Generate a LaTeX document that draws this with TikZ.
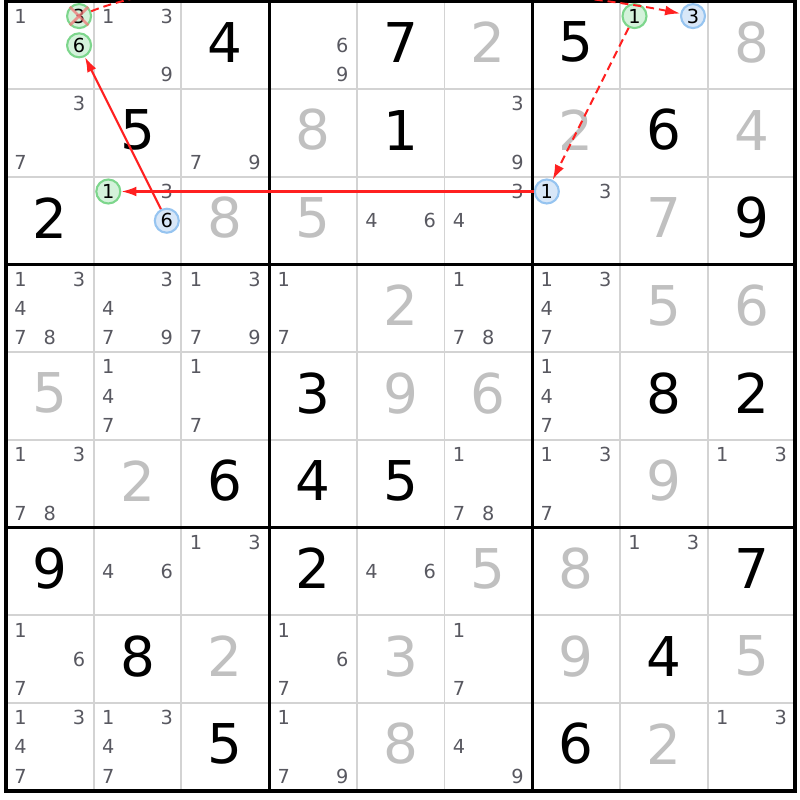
\documentclass[tikz,border=0pt]{standalone}
\usepackage{fontspec}
\setmainfont{DejaVu Sans}
\usetikzlibrary{arrows.meta}
\definecolor{gridgray}{RGB}{211,211,211}
\definecolor{solvedgray}{RGB}{192,192,192}
\definecolor{candgray}{RGB}{88,88,96}
\definecolor{greenfill}{RGB}{212,242,219}
\definecolor{greenline}{RGB}{125,214,140}
\definecolor{bluefill}{RGB}{216,231,248}
\definecolor{blueline}{RGB}{150,196,240}
\definecolor{chainred}{RGB}{255,32,32}
\definecolor{crosspink}{RGB}{240,120,120}
\begin{document}
\begin{tikzpicture}[x=0.14617cm, y=-0.14617cm,
  given/.style={font=\fontsize{15.6}{18}\selectfont, inner sep=0, yshift=.85pt},
  solved/.style={given, text=solvedgray},
  cand/.style={font=\fontsize{5.5}{6}\selectfont, inner sep=0, text=candgray},
  candgreen/.style={cand, circle, text=black, draw=greenline, fill=greenfill, line width=.6pt, minimum size=.24cm},
  candblue/.style={candgreen, draw=blueline, fill=bluefill},
  thingrid/.style={draw=gridgray, line width=.55pt},
  thickgrid/.style={draw=black, line width=.85pt},
  strong/.style={draw=chainred, line width=.6pt, -{Latex[length=4.3pt,width=2.8pt]}},
  weak/.style={strong, line width=.55pt, dash pattern=on 2.3pt off 1.4pt},
  cross/.style={draw=crosspink, line width=.8pt, opacity=.75}]
\clip (-0.41,-0.10) rectangle (54.32,54.63);
\draw[thingrid] (6,0) -- (6,54);
\draw[thingrid] (12,0) -- (12,54);
\draw[thingrid] (24,0) -- (24,54);
\draw[thingrid] (30,0) -- (30,54);
\draw[thingrid] (42,0) -- (42,54);
\draw[thingrid] (48,0) -- (48,54);
\draw[thingrid] (0,6) -- (54,6);
\draw[thingrid] (0,12) -- (54,12);
\draw[thingrid] (0,24) -- (54,24);
\draw[thingrid] (0,30) -- (54,30);
\draw[thingrid] (0,42) -- (54,42);
\draw[thingrid] (0,48) -- (54,48);
\draw[thickgrid] (18,0) -- (18,54);
\draw[thickgrid] (36,0) -- (36,54);
\draw[thickgrid] (0,18) -- (54,18);
\draw[thickgrid] (0,36) -- (54,36);
\draw[thickgrid, line width=1.1pt] (0,0) rectangle (54,54);

\node[cand] (r1c1n1) at (1,1){1};
\node[candgreen] (r1c1n3) at (5,1){3};
\node[candgreen] (r1c1n6) at (5,3){6};
\node[cand] (r1c2n1) at (7,1){1};
\node[cand] (r1c2n3) at (11,1){3};
\node[cand] (r1c2n9) at (11,5){9};
\node[given] (r1c3) at (15,3){4};
\node[cand] (r1c4n6) at (23,3){6};
\node[cand] (r1c4n9) at (23,5){9};
\node[given] (r1c5) at (27,3){7};
\node[solved] (r1c6) at (33,3){2};
\node[given] (r1c7) at (39,3){5};
\node[candgreen] (r1c8n1) at (43,1){1};
\node[candblue] (r1c8n3) at (47,1){3};
\node[solved] (r1c9) at (51,3){8};

\node[cand] (r2c1n3) at (5,7){3};
\node[cand] (r2c1n7) at (1,11){7};
\node[given] (r2c2) at (9,9){5};
\node[cand] (r2c3n7) at (13,11){7};
\node[cand] (r2c3n9) at (17,11){9};
\node[solved] (r2c4) at (21,9){8};
\node[given] (r2c5) at (27,9){1};
\node[cand] (r2c6n3) at (35,7){3};
\node[cand] (r2c6n9) at (35,11){9};
\node[solved] (r2c7) at (39,9){2};
\node[given] (r2c8) at (45,9){6};
\node[solved] (r2c9) at (51,9){4};

\node[given] (r3c1) at (3,15){2};
\node[candgreen] (r3c2n1) at (7,13){1};
\node[cand] (r3c2n3) at (11,13){3};
\node[candblue] (r3c2n6) at (11,15){6};
\node[solved] (r3c3) at (15,15){8};
\node[solved] (r3c4) at (21,15){5};
\node[cand] (r3c5n4) at (25,15){4};
\node[cand] (r3c5n6) at (29,15){6};
\node[cand] (r3c6n3) at (35,13){3};
\node[cand] (r3c6n4) at (31,15){4};
\node[candblue] (r3c7n1) at (37,13){1};
\node[cand] (r3c7n3) at (41,13){3};
\node[solved] (r3c8) at (45,15){7};
\node[given] (r3c9) at (51,15){9};

\node[cand] (r4c1n1) at (1,19){1};
\node[cand] (r4c1n3) at (5,19){3};
\node[cand] (r4c1n4) at (1,21){4};
\node[cand] (r4c1n7) at (1,23){7};
\node[cand] (r4c1n8) at (3,23){8};
\node[cand] (r4c2n3) at (11,19){3};
\node[cand] (r4c2n4) at (7,21){4};
\node[cand] (r4c2n7) at (7,23){7};
\node[cand] (r4c2n9) at (11,23){9};
\node[cand] (r4c3n1) at (13,19){1};
\node[cand] (r4c3n3) at (17,19){3};
\node[cand] (r4c3n7) at (13,23){7};
\node[cand] (r4c3n9) at (17,23){9};
\node[cand] (r4c4n1) at (19,19){1};
\node[cand] (r4c4n7) at (19,23){7};
\node[solved] (r4c5) at (27,21){2};
\node[cand] (r4c6n1) at (31,19){1};
\node[cand] (r4c6n7) at (31,23){7};
\node[cand] (r4c6n8) at (33,23){8};
\node[cand] (r4c7n1) at (37,19){1};
\node[cand] (r4c7n3) at (41,19){3};
\node[cand] (r4c7n4) at (37,21){4};
\node[cand] (r4c7n7) at (37,23){7};
\node[solved] (r4c8) at (45,21){5};
\node[solved] (r4c9) at (51,21){6};

\node[solved] (r5c1) at (3,27){5};
\node[cand] (r5c2n1) at (7,25){1};
\node[cand] (r5c2n4) at (7,27){4};
\node[cand] (r5c2n7) at (7,29){7};
\node[cand] (r5c3n1) at (13,25){1};
\node[cand] (r5c3n7) at (13,29){7};
\node[given] (r5c4) at (21,27){3};
\node[solved] (r5c5) at (27,27){9};
\node[solved] (r5c6) at (33,27){6};
\node[cand] (r5c7n1) at (37,25){1};
\node[cand] (r5c7n4) at (37,27){4};
\node[cand] (r5c7n7) at (37,29){7};
\node[given] (r5c8) at (45,27){8};
\node[given] (r5c9) at (51,27){2};

\node[cand] (r6c1n1) at (1,31){1};
\node[cand] (r6c1n3) at (5,31){3};
\node[cand] (r6c1n7) at (1,35){7};
\node[cand] (r6c1n8) at (3,35){8};
\node[solved] (r6c2) at (9,33){2};
\node[given] (r6c3) at (15,33){6};
\node[given] (r6c4) at (21,33){4};
\node[given] (r6c5) at (27,33){5};
\node[cand] (r6c6n1) at (31,31){1};
\node[cand] (r6c6n7) at (31,35){7};
\node[cand] (r6c6n8) at (33,35){8};
\node[cand] (r6c7n1) at (37,31){1};
\node[cand] (r6c7n3) at (41,31){3};
\node[cand] (r6c7n7) at (37,35){7};
\node[solved] (r6c8) at (45,33){9};
\node[cand] (r6c9n1) at (49,31){1};
\node[cand] (r6c9n3) at (53,31){3};

\node[given] (r7c1) at (3,39){9};
\node[cand] (r7c2n4) at (7,39){4};
\node[cand] (r7c2n6) at (11,39){6};
\node[cand] (r7c3n1) at (13,37){1};
\node[cand] (r7c3n3) at (17,37){3};
\node[given] (r7c4) at (21,39){2};
\node[cand] (r7c5n4) at (25,39){4};
\node[cand] (r7c5n6) at (29,39){6};
\node[solved] (r7c6) at (33,39){5};
\node[solved] (r7c7) at (39,39){8};
\node[cand] (r7c8n1) at (43,37){1};
\node[cand] (r7c8n3) at (47,37){3};
\node[given] (r7c9) at (51,39){7};

\node[cand] (r8c1n1) at (1,43){1};
\node[cand] (r8c1n6) at (5,45){6};
\node[cand] (r8c1n7) at (1,47){7};
\node[given] (r8c2) at (9,45){8};
\node[solved] (r8c3) at (15,45){2};
\node[cand] (r8c4n1) at (19,43){1};
\node[cand] (r8c4n6) at (23,45){6};
\node[cand] (r8c4n7) at (19,47){7};
\node[solved] (r8c5) at (27,45){3};
\node[cand] (r8c6n1) at (31,43){1};
\node[cand] (r8c6n7) at (31,47){7};
\node[solved] (r8c7) at (39,45){9};
\node[given] (r8c8) at (45,45){4};
\node[solved] (r8c9) at (51,45){5};

\node[cand] (r9c1n1) at (1,49){1};
\node[cand] (r9c1n3) at (5,49){3};
\node[cand] (r9c1n4) at (1,51){4};
\node[cand] (r9c1n7) at (1,53){7};
\node[cand] (r9c2n1) at (7,49){1};
\node[cand] (r9c2n3) at (11,49){3};
\node[cand] (r9c2n4) at (7,51){4};
\node[cand] (r9c2n7) at (7,53){7};
\node[given] (r9c3) at (15,51){5};
\node[cand] (r9c4n1) at (19,49){1};
\node[cand] (r9c4n7) at (19,53){7};
\node[cand] (r9c4n9) at (23,53){9};
\node[solved] (r9c5) at (27,51){8};
\node[cand] (r9c6n4) at (31,51){4};
\node[cand] (r9c6n9) at (35,53){9};
\node[given] (r9c7) at (39,51){6};
\node[solved] (r9c8) at (45,51){2};
\node[cand] (r9c9n1) at (49,49){1};
\node[cand] (r9c9n3) at (53,49){3};

\draw[cross] (r1c1n3.north west) -- (r1c1n3.south east);
\draw[cross] (r1c1n3.south west) -- (r1c1n3.north east);
\draw[strong] (r3c2n6) -- (r1c1n6);
\draw[weak] (r1c1n3) .. controls +(10,-4) and +(-9,-1.8) .. (r1c8n3);
\draw[weak] (r1c8n1) -- (r3c7n1);
\draw[strong] (r3c7n1) -- (r3c2n1);
\end{tikzpicture}
\end{document}
